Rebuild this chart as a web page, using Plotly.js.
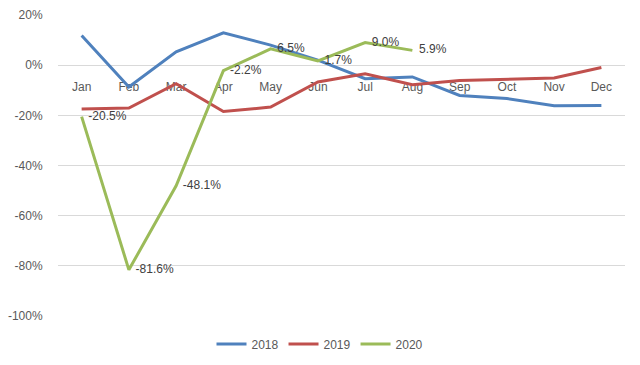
<!DOCTYPE html>
<html>
<head>
<meta charset="utf-8">
<script src="https://cdn.plot.ly/plotly-3.0.1.min.js"></script>
<style>html,body{margin:0;padding:0;background:#fff;}#chart{width:640px;height:365px;}</style>
</head>
<body>
<div id="chart"></div>
<script>
const months = ["Jan","Feb","Mar","Apr","May","Jun","Jul","Aug","Sep","Oct","Nov","Dec"];
const y2018 = [11.8, -8.7, 5.3, 12.9, 8.0, 2.0, -5.4, -4.7, -12.1, -13.3, -16.2, -16.1];
const y2019 = [-17.5, -17.1, -7.4, -18.5, -16.7, -6.7, -3.4, -7.8, -6.1, -5.5, -5.1, -0.9];
const months2020 = ["Jan","Feb","Mar","Apr","May","Jun","Jul","Aug"];
const y2020 = [-20.5, -81.6, -48.1, -2.2, 6.5, 1.7, 9.0, 5.9];
const yTicks = [20, 0, -20, -40, -60, -80, -100];

const font = "Liberation Sans, Arial, sans-serif";
const traces = [
  {x: months, y: y2018, name: "2018", mode: "lines", line: {color: "#4F81BD", width: 3}},
  {x: months, y: y2019, name: "2019", mode: "lines", line: {color: "#C0504D", width: 3}},
  {x: months2020, y: y2020, name: "2020", mode: "lines+text", line: {color: "#9BBB59", width: 3},
   text: y2020.map(v => "\u00a0\u00a0" + v.toFixed(1) + "%"), textposition: "middle right",
   textfont: {family: font, size: 12, color: "#404040"}, cliponaxis: false}
];
const layout = {
  width: 640, height: 365,
  margin: {l: 58, r: 15, t: 15, b: 49, autoexpand: false},
  paper_bgcolor: "#fff", plot_bgcolor: "#fff",
  font: {family: font, size: 12, color: "#595959"},
  showlegend: true,
  legend: {orientation: "h", x: 0.5, xanchor: "center", xref: "container",
           y: 21/365, yanchor: "middle", yref: "container",
           font: {family: font, size: 12, color: "#595959"}, itemwidth: 30},
  xaxis: {type: "category", categoryarray: months, range: [-0.5, 11.5],
          anchor: "free", position: 100/120, layer: "below traces",
          showgrid: false, showline: false, zeroline: false, automargin: false,
          ticks: "outside", ticklen: 10, tickcolor: "rgba(0,0,0,0)",
          tickfont: {family: font, size: 12, color: "#595959"}},
  yaxis: {range: [-100, 20], tickvals: yTicks, ticktext: yTicks.map(v => v + "%"),
          showgrid: true, gridcolor: "#D9D9D9", gridwidth: 1, automargin: false,
          zeroline: true, zerolinecolor: "#D9D9D9", zerolinewidth: 1,
          showline: false, ticks: "outside", ticklen: 12, tickcolor: "rgba(0,0,0,0)",
          tickfont: {family: font, size: 12, color: "#595959"}}
};
Plotly.newPlot("chart", traces, layout, {displayModeBar: false, staticPlot: true});
</script>
</body>
</html>
